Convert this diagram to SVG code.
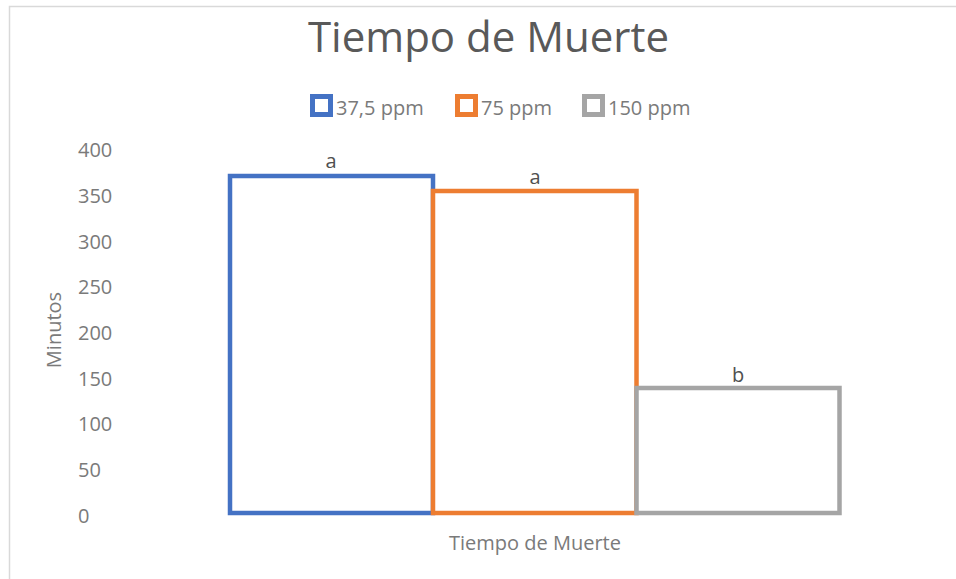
<svg xmlns="http://www.w3.org/2000/svg" width="956" height="579" viewBox="0 0 956 579">
<style>
text { font-family: "Open Sans", "Liberation Sans", sans-serif; fill: #595959; }
.tick { font-size: 20px; fill: #7a7a7a; }
.lbl { font-size: 20px; fill: #505050; text-anchor: middle; }
.bar { fill: #ffffff; stroke-width: 4.5; }
.leg { fill: #ffffff; stroke-width: 5; }
</style>
<rect x="0" y="0" width="956" height="579" fill="#ffffff"/>
<rect x="9.5" y="6.5" width="980" height="600" fill="#ffffff" stroke="#d9d9d9" stroke-width="1.5"/>
<text x="488.5" y="52" font-size="42" text-anchor="middle">Tiempo de Muerte</text>
<g id="legend">
<rect class="leg" x="312.5" y="96.5" width="18" height="18" stroke="#4472C4"/>
<text class="tick" x="336" y="114.5">37,5 ppm</text>
<rect class="leg" x="457.5" y="96.5" width="18" height="18" stroke="#ED7D31"/>
<text class="tick" x="481" y="114.5">75 ppm</text>
<rect class="leg" x="584.5" y="96.5" width="18" height="18" stroke="#A5A5A5"/>
<text class="tick" x="608" y="114.5">150 ppm</text>
</g>
<g id="yaxis">
<text class="tick" x="78" y="157">400</text>
<text class="tick" x="78" y="203">350</text>
<text class="tick" x="78" y="248.5">300</text>
<text class="tick" x="78" y="294">250</text>
<text class="tick" x="78" y="340">200</text>
<text class="tick" x="78" y="385.5">150</text>
<text class="tick" x="78" y="431">100</text>
<text class="tick" x="78" y="477">50</text>
<text class="tick" x="78" y="522.5">0</text>
<text class="tick" transform="translate(61 330) rotate(-90)" text-anchor="middle">Minutos</text>
</g>
<text class="tick" x="535" y="550" text-anchor="middle">Tiempo de Muerte</text>
<g id="bar-37-5">
<rect class="bar" x="230" y="176" width="203" height="337" stroke="#4472C4"/>
<text class="lbl" x="331" y="168">a</text>
</g>
<g id="bar-75">
<rect class="bar" x="433" y="191" width="203.5" height="322" stroke="#ED7D31"/>
<text class="lbl" x="535" y="184">a</text>
</g>
<g id="bar-150">
<rect class="bar" x="636.5" y="388" width="203" height="125" stroke="#A5A5A5"/>
<text class="lbl" x="738" y="382">b</text>
</g>
</svg>
